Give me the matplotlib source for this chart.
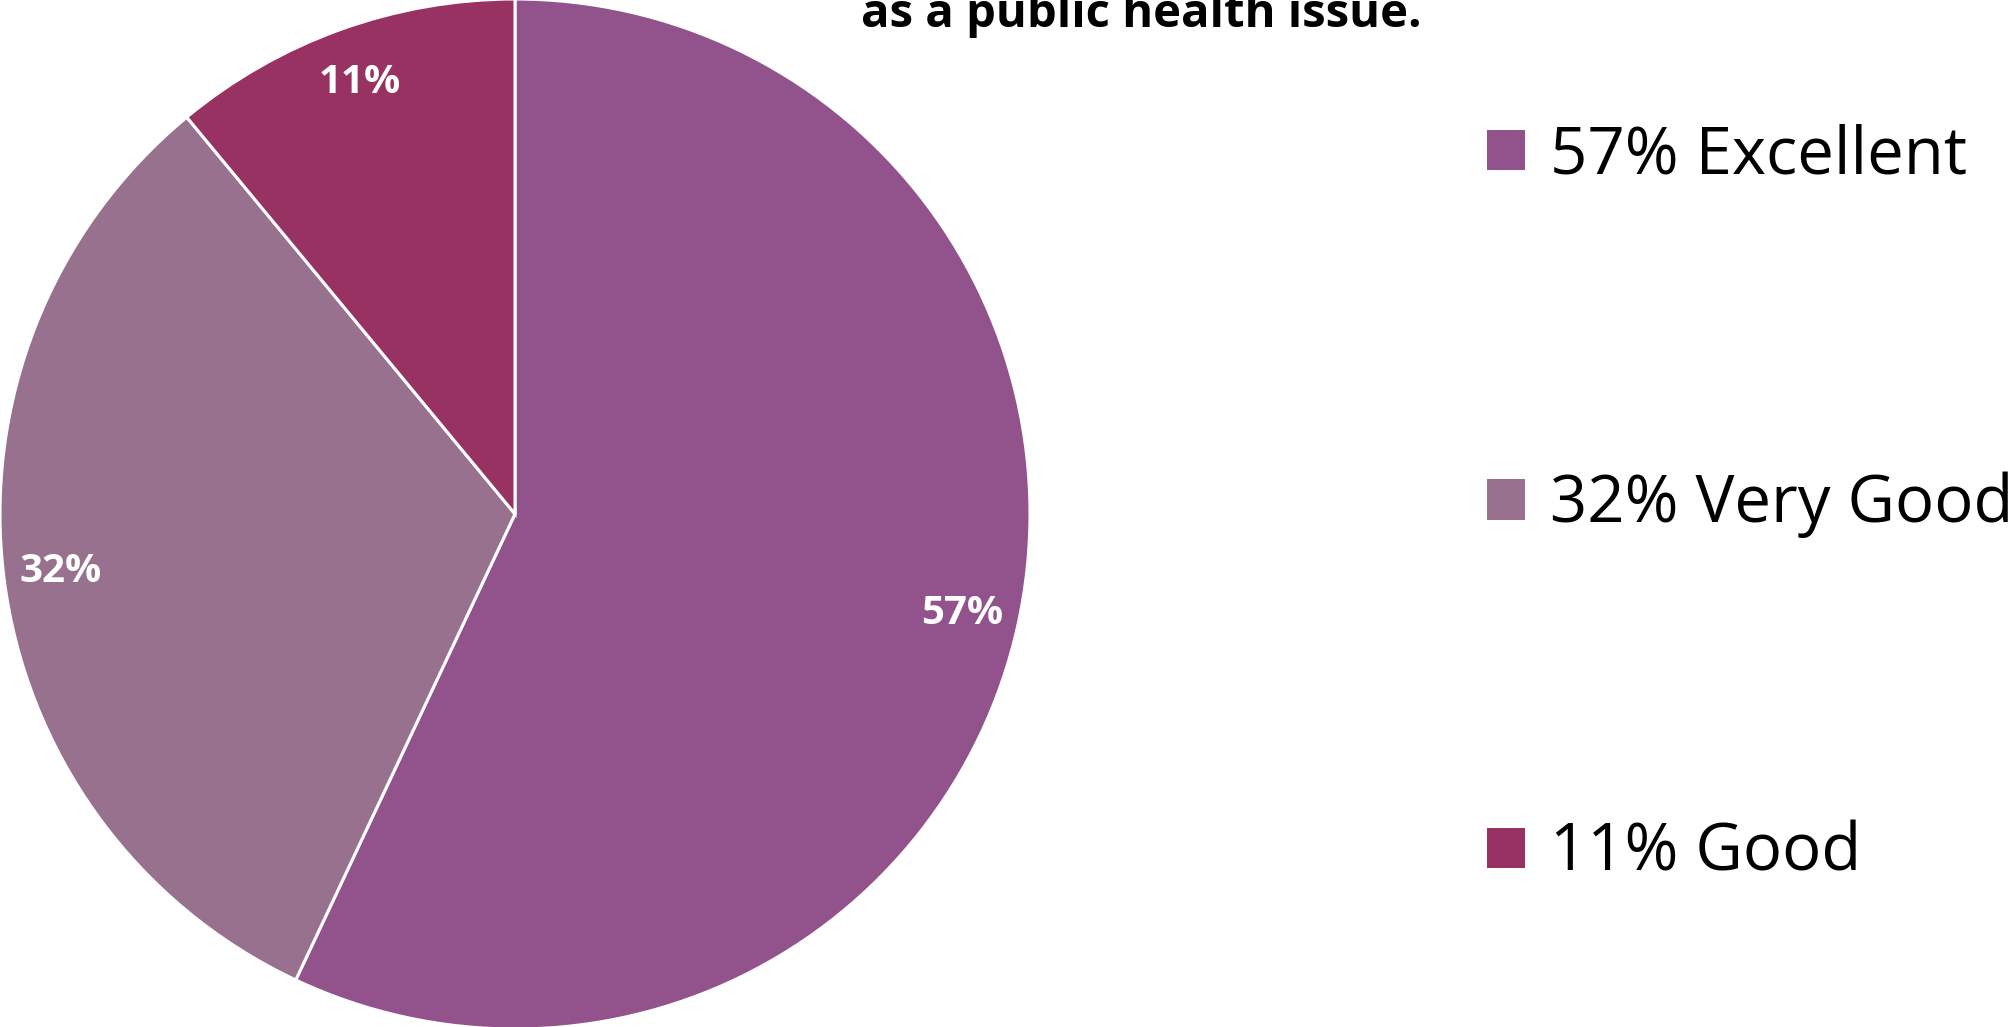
import matplotlib
matplotlib.use("Agg")
import matplotlib.pyplot as plt

# Data
categories = ["Excellent", "Very Good", "Good"]
values = [57, 32, 11]
colors = ["#92528C", "#98718E", "#983262"]
title_line = "as a public health issue."

plt.rcParams['font.family'] = ['Open Sans', 'DejaVu Sans']

W, H = 2013, 1027
fig = plt.figure(figsize=(W / 100, H / 100), dpi=100)

# pie: centre ~ (515, 514) px from top-left, radius ~515 px
r_px = 515
cx, cy = 515, 514
ax = fig.add_axes([(cx - r_px) / W, (H - cy - r_px) / H, 2 * r_px / W, 2 * r_px / H])
wedges, texts = ax.pie(values, colors=colors, startangle=90, counterclock=False,
                       labels=[f"{v}%" for v in values], labeldistance=0.89,
                       wedgeprops=dict(edgecolor="white", linewidth=2.2),
                       textprops=dict(color="white", fontsize=29, fontweight="bold"))
for t in texts:
    t.set_ha("center")
    t.set_va("center")
ax.set_xlim(-1, 1)
ax.set_ylim(-1, 1)
ax.set_aspect("equal")
ax.axis("off")

# legend
fs = 47
fs_px = fs * 100 / 72
leg = fig.legend(wedges, [f"{v}% {c}" for v, c in zip(values, categories)],
                 loc="center left", bbox_to_anchor=(1487 / W, (H - 505) / H),
                 frameon=False, fontsize=fs, borderpad=0, borderaxespad=0,
                 handlelength=38 / fs_px, handleheight=38 / fs_px,
                 handletextpad=0.38, labelspacing=4.33)
for h in leg.legend_handles:
    h.set_edgecolor("none")

# title (only its last line is visible in the frame)
fig.text(1141 / W, (H - 27) / H, title_line, ha="center", va="baseline",
         fontsize=34, fontweight="bold")

fig.savefig("out.png", dpi=100)
